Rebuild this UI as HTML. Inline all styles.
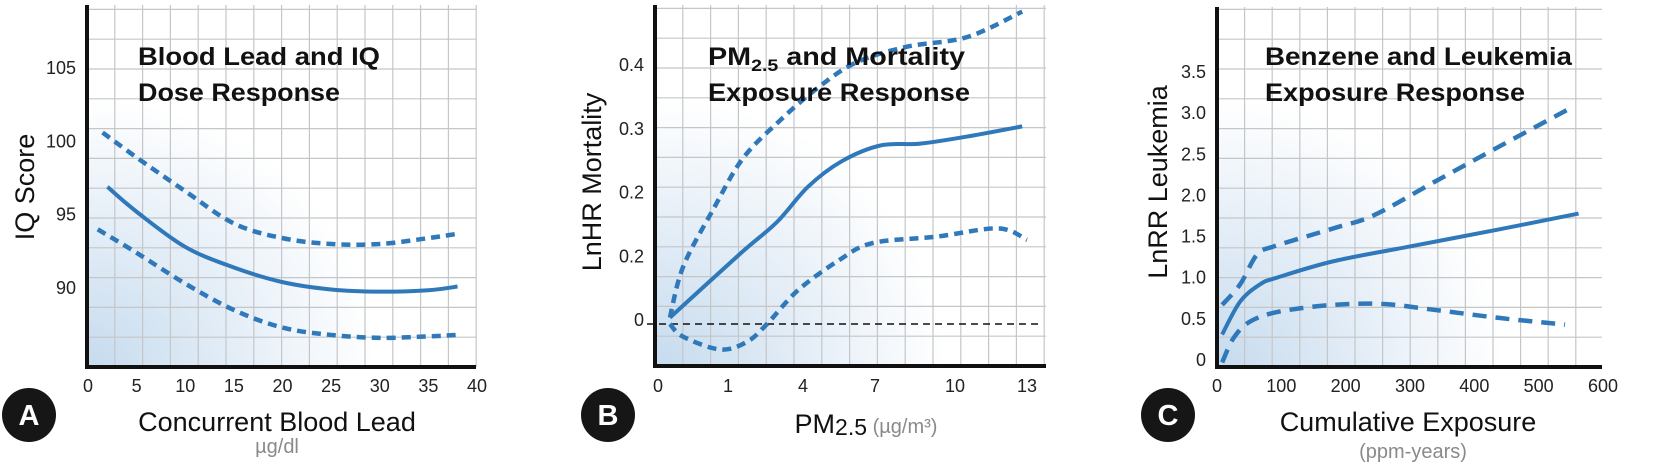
<!DOCTYPE html>
<html><head><meta charset="utf-8"><style>
html,body{margin:0;padding:0;background:#fff;}
svg{display:block;font-family:"Liberation Sans",sans-serif;}
</style></head><body>
<svg id="chart" width="1668" height="470" viewBox="0 0 1668 470" xmlns="http://www.w3.org/2000/svg">
<defs>
<radialGradient id="bgGrad" cx="0" cy="1" r="0.95" fx="0" fy="1">
<stop offset="0" stop-color="#c6dbee"/>
<stop offset="0.5" stop-color="#ebf2f9"/>
<stop offset="0.78" stop-color="#ffffff"/>
</radialGradient>
</defs>
</svg>
<script>
// Panel A data
const aX = [2, 5, 10, 15, 20, 25, 30, 35, 38];
const aMean = [96.9, 95.2, 92.8, 91.4, 90.4, 89.9, 89.75, 89.85, 90.1];
const aUpX = [1.5, 5, 10, 15, 20, 25, 30, 35, 38];
const aUpper = [100.6, 98.9, 96.6, 94.4, 93.4, 93.0, 93.0, 93.4, 93.7];
const aLoX = [1, 5, 10, 15, 20, 25, 30, 35, 38];
const aLower = [94.0, 92.4, 90.3, 88.5, 87.3, 86.8, 86.6, 86.7, 86.8];
const aXTicks = [0, 5, 10, 15, 20, 25, 30, 35, 40];
const aYTicks = [90, 95, 100, 105];
// Panel B data
const bX = [0.17, 1.48, 2.96, 4.2, 5.6, 7.2, 8.7, 10.5, 12.8];
const bMean = [0.01, 0.11, 0.16, 0.215, 0.255, 0.28, 0.283, 0.294, 0.31];
const bUpX = [0.17, 0.36, 0.79, 1.6, 3.1, 4.6, 6.2, 8.2, 10.5, 12.8];
const bUpper = [0.01, 0.09, 0.18, 0.26, 0.32, 0.37, 0.41, 0.435, 0.45, 0.49];
const bLoX = [0.17, 0.36, 0.89, 1.76, 2.56, 3.8, 5.5, 6.9, 9.3, 11.8, 13];
const bLower = [0, -0.02, -0.04, -0.028, 0.0, 0.053, 0.10, 0.127, 0.137, 0.15, 0.132];
const bXTicks = [0, 1, 4, 7, 10, 13];
const bYTickVals = [0, 0.1, 0.2, 0.3, 0.4];
const bYTickLabels = ["0", "0.2", "0.2", "0.3", "0.4"];
// Panel C data
const cX = [8, 36, 67, 93, 181, 300, 440, 562];
const cMean = [0.31, 0.71, 0.92, 1.0, 1.2, 1.38, 1.59, 1.78];
const cUpX = [8, 36, 62, 88, 181, 244, 337, 440, 554];
const cUpper = [0.67, 0.92, 1.28, 1.38, 1.6, 1.76, 2.16, 2.6, 3.08];
const cLoX = [8, 26, 52, 98, 181, 259, 337, 440, 541];
const cLower = [-0.03, 0.27, 0.47, 0.59, 0.67, 0.68, 0.61, 0.51, 0.43];
const cXTicks = [0, 100, 200, 300, 400, 500, 600];
const cYTickVals = [0, 0.5, 1.0, 1.5, 2.0, 2.5, 3.0, 3.5];
const cYTickLabels = ["0", "0.5", "1.0", "1.5", "2.0", "2.5", "3.0", "3.5"];

const NS = "http://www.w3.org/2000/svg";
const svg = document.getElementById("chart");
const BLUE = "#2f78b9";
function mk(tag, attrs, parent) {
  const e = document.createElementNS(NS, tag);
  for (const k in attrs) e.setAttribute(k, attrs[k]);
  (parent || svg).appendChild(e);
  return e;
}
function curvePath(xs, ys, sx, sy) {
  const p = xs.map((x, i) => [sx(x), sy(ys[i])]);
  let d = "M" + p[0][0] + "," + p[0][1];
  for (let i = 0; i < p.length - 1; i++) {
    const p0 = p[Math.max(0, i - 1)], p1 = p[i], p2 = p[i + 1], p3 = p[Math.min(p.length - 1, i + 2)];
    const c1x = p1[0] + (p2[0] - p0[0]) / 6, c1y = p1[1] + (p2[1] - p0[1]) / 6;
    const c2x = p2[0] - (p3[0] - p1[0]) / 6, c2y = p2[1] - (p3[1] - p1[1]) / 6;
    d += " C" + c1x + "," + c1y + " " + c2x + "," + c2y + " " + p2[0] + "," + p2[1];
  }
  return d;
}
function panel(cfg) {
  const g = mk("g", {});
  
  
  const bg = mk("rect", {x: cfg.L, y: cfg.T, width: cfg.R - cfg.L, height: cfg.B - cfg.T, fill: "url(#bgGrad)"}, g);
  
  
  const grid = mk("g", {stroke: "#c4c6c8", "stroke-width": 1.2}, g);
  
  
  for (let x = cfg.L + cfg.gs; x <= cfg.R + 1; x += cfg.gs) mk("line", {x1: x, x2: x, y1: cfg.T, y2: cfg.B}, grid);
  for (let y = cfg.B - cfg.gsy; y >= cfg.T - 1; y -= cfg.gsy) mk("line", {x1: cfg.L, x2: cfg.R, y1: y, y2: y}, grid);
  if (cfg.zeroLine) {
    const z = mk("line", {x1: cfg.L - 8, x2: cfg.R - 8, y1: cfg.sy(0), y2: cfg.sy(0), stroke: "#111", "stroke-width": 1.5, "stroke-dasharray": "7 5"}, g);
    
    
  }
  const series = [[cfg.upX, cfg.up, true, 'upper-ci-line'], [cfg.loX, cfg.lo, true, 'lower-ci-line'], [cfg.mX, cfg.mean, false, 'mean-line']];
  series.forEach(s => {
    const p = mk("path", {d: curvePath(s[0], s[1], cfg.sx, cfg.sy), fill: "none", stroke: BLUE, "stroke-width": s[2] ? 4.5 : 4, "stroke-dasharray": s[2] ? cfg.dash : "none"}, g);
    
    
  });
  const ax = mk("path", {d: "M" + cfg.L + "," + cfg.T + " L" + cfg.L + "," + cfg.B + " L" + cfg.R + "," + cfg.B, fill: "none", stroke: "#111", "stroke-width": 4}, g);
  
  
  cfg.xTicks.forEach(t => {
    const e = mk("text", {x: cfg.sx(t), y: 392, "font-size": 18, "text-anchor": "middle", fill: "#222"}, g);
    e.textContent = t;
    
    
  });
  cfg.yTickVals.forEach((t, i) => {
    const e = mk("text", {x: cfg.L - 11, y: cfg.sy(t) + 6 + (cfg.yOff || 0), "font-size": 18, "text-anchor": "end", fill: "#222"}, g);
    e.textContent = cfg.yTickLabels[i];
    
    
  });
  const yt = mk("text", {x: 0, y: 0, transform: "translate(" + cfg.ytx + "," + cfg.yty + ") rotate(-90)", "font-size": 27, "text-anchor": "middle", fill: "#111"}, g);
  yt.textContent = cfg.yTitle;
  
  
  cfg.title.forEach((t, i) => {
    const e = mk("text", {x: cfg.titleX, y: 65 + i * 36, "font-size": 25, "font-weight": "bold", fill: "#111", textLength: t[1], lengthAdjust: "spacingAndGlyphs"}, g);
    e.innerHTML = t[0];
    
    
  });
  const bc = mk("circle", {cx: cfg.badgeX, cy: 415, r: 27, fill: "#161616"}, g);
  
  
  const bt = mk("text", {x: cfg.badgeX, y: 425, "font-size": 29, "font-weight": "bold", fill: "#fff", "text-anchor": "middle"}, g);
  bt.textContent = cfg.letter;
  
  
  return g;
}
function lin(d0, d1, r0, r1) { return v => r0 + (v - d0) * (r1 - r0) / (d1 - d0); }
function piece(ds, rs) {
  return v => {
    let i = 0;
    while (i < ds.length - 2 && v > ds[i + 1]) i++;
    return rs[i] + (v - ds[i]) * (rs[i + 1] - rs[i]) / (ds[i + 1] - ds[i]);
  };
}
panel({name: 'panel-a-blood-lead-iq', L: 87, R: 476, T: 5, B: 367, gs: 27.8, gsy: 29.8,
  sx: lin(0, 40, 88, 477), sy: lin(105, 90, 68, 288), dash: "9 6",
  mX: aX, mean: aMean, upX: aUpX, up: aUpper, loX: aLoX, lo: aLower,
  xTicks: aXTicks, yTickVals: aYTicks, yTickLabels: aYTicks,
  yTitle: "IQ Score", ytx: 34, yty: 187, title: [["Blood Lead and IQ", 242], ["Dose Response", 202]], titleX: 138,
  badgeX: 29, letter: "A"});
panel({name: 'panel-b-pm25-mortality', L: 655, R: 1046, T: 5, B: 366, gs: 27.8, gsy: 29.8,
  sx: piece(bXTicks, [658, 728, 803, 875, 955, 1027]), sy: lin(0, 0.4, 324, 69), dash: "9 6", zeroLine: true, yOff: -4,
  mX: bX, mean: bMean, upX: bUpX, up: bUpper, loX: bLoX, lo: bLower,
  xTicks: bXTicks, yTickVals: bYTickVals, yTickLabels: bYTickLabels,
  yTitle: "LnHR Mortality", ytx: 601, yty: 182, title: [["PM<tspan font-size='17' dy='6'>2.5</tspan><tspan dy='-6'> and Mortality</tspan>", 257], ["Exposure Response", 262]], titleX: 708,
  badgeX: 608, letter: "B"});
panel({name: 'panel-c-benzene-leukemia', L: 1217, R: 1602, T: 7, B: 367, gs: 27.6, gsy: 29.8,
  sx: lin(0, 600, 1217, 1603), sy: lin(0, 3.5, 360, 72), dash: "14 9",
  mX: cX, mean: cMean, upX: cUpX, up: cUpper, loX: cLoX, lo: cLower,
  xTicks: cXTicks, yTickVals: cYTickVals, yTickLabels: cYTickLabels,
  yTitle: "LnRR Leukemia", ytx: 1167, yty: 182, title: [["Benzene and Leukemia", 307], ["Exposure Response", 260]], titleX: 1265,
  badgeX: 1168, letter: "C"});
function txt(name, attrs, html) {
  const e = mk("text", attrs);
  e.innerHTML = html;
  
  
}
txt('x-axis-title-a', {x: 277, y: 431, "font-size": 27, "text-anchor": "middle", fill: "#111"}, "Concurrent Blood Lead");
txt('x-axis-unit-a', {x: 277, y: 453, "font-size": 20, "text-anchor": "middle", fill: "#8a8a8a"}, "µg/dl");
txt('x-axis-title-b', {x: 866, y: 433, "font-size": 27, "text-anchor": "middle", fill: "#111"}, "PM<tspan font-size='23' dy='2'>2.5</tspan><tspan dy='-2' font-size='20' fill='#8a8a8a'>  (µg/m³)</tspan>");
txt('x-axis-title-c', {x: 1408, y: 431, "font-size": 27, "text-anchor": "middle", fill: "#111"}, "Cumulative Exposure");
txt('x-axis-unit-c', {x: 1413, y: 458, "font-size": 20, "text-anchor": "middle", fill: "#8a8a8a"}, "(ppm-years)");
</script>
</body></html>
